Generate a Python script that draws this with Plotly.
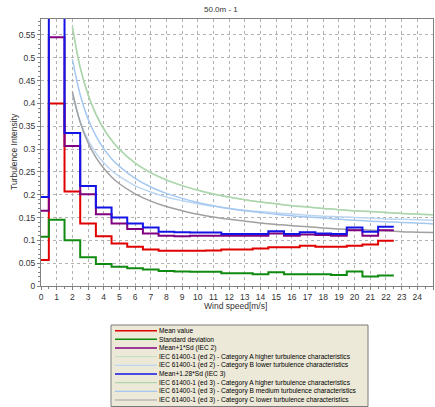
import plotly.graph_objects as go

# ---------------- data ----------------
wind_bins = [0, 1, 2, 3, 4, 5, 6, 7, 8, 9, 10, 11, 12, 13, 14, 15, 16, 17, 18, 19, 20, 21, 22]

mean_value = [0.057, 0.400, 0.207, 0.137, 0.109, 0.093, 0.086, 0.080, 0.077, 0.077, 0.077, 0.078,
              0.080, 0.080, 0.082, 0.085, 0.085, 0.088, 0.086, 0.086, 0.088, 0.091, 0.099]
std_dev = [0.108, 0.145, 0.100, 0.063, 0.048, 0.042, 0.039, 0.036, 0.033, 0.032, 0.031, 0.031,
           0.028, 0.028, 0.026, 0.030, 0.026, 0.026, 0.026, 0.024, 0.032, 0.021, 0.023]
mean_1sd = [0.165, 0.545, 0.307, 0.201, 0.157, 0.137, 0.125, 0.115, 0.110, 0.109, 0.110, 0.110,
            0.110, 0.110, 0.110, 0.115, 0.110, 0.113, 0.112, 0.110, 0.122, 0.110, 0.122]
mean_128sd = [0.195, 0.590, 0.335, 0.219, 0.172, 0.150, 0.137, 0.128, 0.119, 0.118, 0.117, 0.117,
              0.114, 0.114, 0.114, 0.120, 0.114, 0.118, 0.115, 0.114, 0.128, 0.119, 0.130]

iec_ws = [2, 2.5, 3, 3.5, 4, 4.5, 5, 6, 7, 8, 9, 10, 11, 12, 13, 14, 15, 16, 17, 18, 19, 20, 21, 22, 23, 24, 25]
ed2_cat_a = [0.570, 0.480, 0.420, 0.377, 0.345, 0.320, 0.300, 0.270, 0.249, 0.233, 0.220, 0.210, 0.202, 0.195,
             0.189, 0.184, 0.180, 0.176, 0.173, 0.170, 0.167, 0.165, 0.163, 0.161, 0.159, 0.158, 0.156]
ed2_cat_b = [0.420, 0.360, 0.320, 0.291, 0.270, 0.253, 0.240, 0.220, 0.206, 0.195, 0.187, 0.180, 0.175, 0.170,
             0.166, 0.163, 0.160, 0.158, 0.155, 0.153, 0.152, 0.150, 0.149, 0.147, 0.146, 0.145, 0.144]
ed3_cat_a = [0.568, 0.478, 0.419, 0.376, 0.344, 0.319, 0.299, 0.269, 0.248, 0.232, 0.220, 0.210, 0.201, 0.195,
             0.189, 0.184, 0.180, 0.176, 0.173, 0.170, 0.167, 0.165, 0.163, 0.161, 0.159, 0.157, 0.156]
ed3_cat_b = [0.497, 0.419, 0.366, 0.329, 0.301, 0.279, 0.262, 0.236, 0.217, 0.203, 0.192, 0.183, 0.176, 0.170,
             0.165, 0.161, 0.157, 0.154, 0.151, 0.149, 0.146, 0.144, 0.142, 0.141, 0.139, 0.138, 0.136]
ed3_cat_c = [0.426, 0.359, 0.314, 0.282, 0.258, 0.239, 0.224, 0.202, 0.186, 0.174, 0.165, 0.157, 0.151, 0.146,
             0.142, 0.138, 0.135, 0.132, 0.130, 0.127, 0.125, 0.124, 0.122, 0.121, 0.119, 0.118, 0.117]

legend_names = [
    "Mean value",
    "Standard deviation",
    "Mean+1*Sd (IEC 2)",
    "IEC 61400-1 (ed 2) - Category A higher turbulence characteristics",
    "IEC 61400-1 (ed 2) - Category B lower turbulence characteristics",
    "Mean+1.28*Sd (IEC 3)",
    "IEC 61400-1 (ed 3) - Category A higher turbulence characteristics",
    "IEC 61400-1 (ed 3) - Category B medium turbulence characteristics",
    "IEC 61400-1 (ed 3) - Category C lower turbulence characteristics",
]
title_text = "50.0m - 1"
x_title = "Wind speed[m/s]"
y_title = "Turbulence Intensity"

# ---------------- styles ----------------
C_RED = "#e00000"
C_GREEN = "#108a10"
C_PURPLE = "#800080"
C_BLUE = "#1414e6"
C_ED2A = "#c6e2c6"
C_ED2B = "#bcd6f2"
C_ED3A = "#add6ad"
C_ED3B = "#a4c8f0"
C_ED3C = "#a0a0a0"
FONT = "Liberation Sans"

# figure geometry (pixels)
FW, FH = 435, 407
L, R, T, B = 41, 2, 19, 121
PW = FW - L - R
PH = FH - T - B


def px_x(px):
    return (px - L) / PW


def px_y(py):
    return (T + PH - py) / PH


def step_xy(vals):
    xs = [max(b - 0.5, 0) for b in wind_bins] + [wind_bins[-1] + 0.5]
    ys = list(vals) + [vals[-1]]
    return xs, ys


fig = go.Figure()

# IEC curves
for ys, col, w in [(ed2_cat_a, C_ED2A, 1.5), (ed2_cat_b, C_ED2B, 1.5),
                   (ed3_cat_a, C_ED3A, 1.5), (ed3_cat_b, C_ED3B, 1.5), (ed3_cat_c, C_ED3C, 1.5)]:
    fig.add_trace(go.Scatter(x=iec_ws, y=ys, mode="lines", line=dict(color=col, width=w, shape="spline"),
                             showlegend=False, hoverinfo="skip"))

# step series
for vals, col in [(mean_value, C_RED), (std_dev, C_GREEN), (mean_1sd, C_PURPLE), (mean_128sd, C_BLUE)]:
    xs, ys = step_xy(vals)
    fig.add_trace(go.Scatter(x=xs, y=ys, mode="lines", line=dict(color=col, width=2, shape="hv"),
                             showlegend=False, hoverinfo="skip"))

axis_common = dict(
    showgrid=True, gridcolor="#b2b2b2", gridwidth=1, griddash="3px,3px",
    showline=True, mirror=True, linecolor="#808080", linewidth=1,
    zeroline=False, ticks="outside", ticklen=3, tickcolor="#808080",
    tickfont=dict(family=FONT, size=8.5, color="#333333"),
)

fig.update_xaxes(range=[0, 25], tick0=0, dtick=1,
                 minor=dict(dtick=0.5, ticklen=2, tickcolor="#808080", showgrid=False),
                 **axis_common)
fig.update_yaxes(range=[0, 0.585], tick0=0, dtick=0.05,
                 minor=dict(dtick=0.01, ticklen=2, tickcolor="#808080", showgrid=False),
                 **axis_common)

annotations = [
    dict(text=title_text, x=px_x(221), y=px_y(10), xref="paper", yref="paper", showarrow=False,
         font=dict(family=FONT, size=8, color="#333333"), xanchor="center", yanchor="middle"),
    dict(text=x_title, x=px_x(235), y=px_y(306), xref="paper", yref="paper", showarrow=False,
         font=dict(family=FONT, size=8.5, color="#333333"), xanchor="center", yanchor="middle"),
    dict(text=y_title, x=px_x(14), y=px_y(152), xref="paper", yref="paper", showarrow=False,
         textangle=-90, font=dict(family=FONT, size=8.5, color="#333333"), xanchor="center", yanchor="middle"),
]

shapes = [
    dict(type="rect", xref="paper", yref="paper", x0=px_x(111), x1=px_x(368), y0=px_y(325), y1=px_y(406.5),
         fillcolor="#ece9d8", line=dict(color="#7a7a7a", width=1), layer="below"),
]

legend_colors = [C_RED, C_GREEN, C_PURPLE, C_ED2A, C_ED2B, C_BLUE, C_ED3A, C_ED3B, C_ED3C]
legend_widths = [1.5, 1.5, 1.5, 1.2, 1.2, 1.5, 1.2, 1.2, 1.2]
for i, (name, col, lw) in enumerate(zip(legend_names, legend_colors, legend_widths)):
    yc = 330.7 + i * 8.66
    shapes.append(dict(type="line", xref="paper", yref="paper", x0=px_x(115), x1=px_x(157),
                       y0=px_y(yc), y1=px_y(yc), line=dict(color=col, width=lw)))
    annotations.append(dict(text=name, x=px_x(158), y=px_y(yc), xref="paper", yref="paper",
                            showarrow=False, xanchor="left", yanchor="middle", borderpad=0,
                            font=dict(family=FONT, size=6.6, color="#000000")))

fig.update_layout(
    width=FW, height=FH,
    margin=dict(l=L, r=R, t=T, b=B),
    paper_bgcolor="white", plot_bgcolor="white",
    showlegend=False,
    annotations=annotations,
    shapes=shapes,
)

fig.write_html("out.html")
